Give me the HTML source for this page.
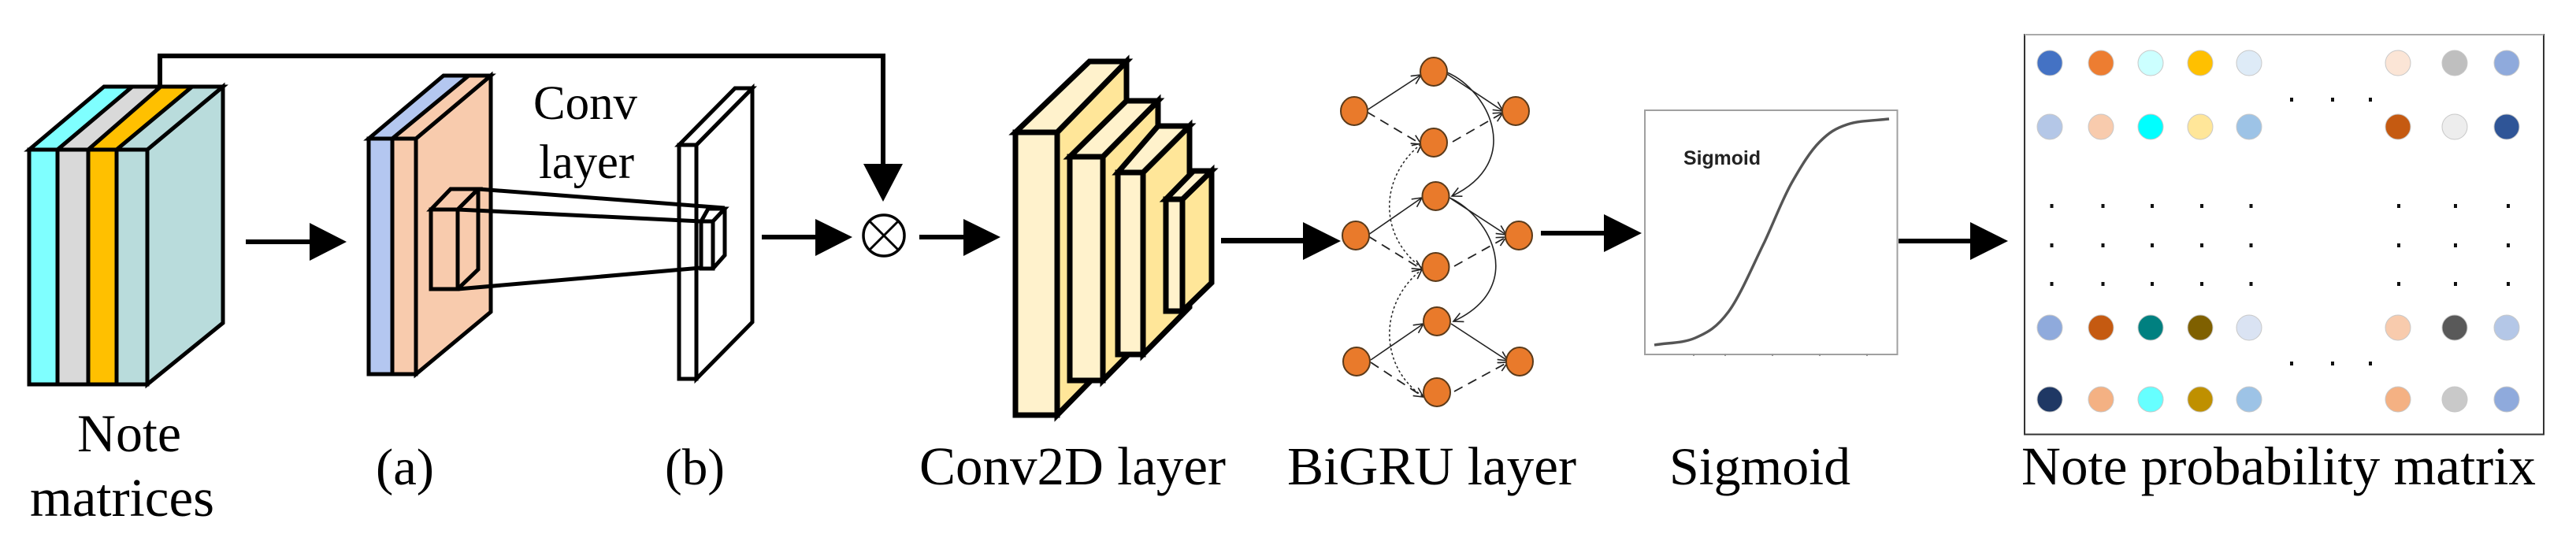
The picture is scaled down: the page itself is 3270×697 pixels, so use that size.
<!DOCTYPE html>
<html><head><meta charset="utf-8"><style>html,body{margin:0;padding:0;background:#fff}svg{display:block}
text{font-family:"Liberation Serif",serif;fill:#000}</style></head><body>
<svg width="3270" height="697" viewBox="0 0 3270 697" xmlns="http://www.w3.org/2000/svg">
<defs>
<marker id="v" markerUnits="userSpaceOnUse" markerWidth="18" markerHeight="18" refX="15" refY="9" orient="auto"><path d="M3,3 L15,9 L3,15" fill="none" stroke="#222" stroke-width="1.6"/></marker>
</defs>
<rect width="3270" height="697" fill="#fff"/>

<!-- Note matrices -->
<g stroke="#000" stroke-width="5" stroke-linejoin="miter">
<polygon points="187,190 283,110 283,410 187,488" fill="#b9dcdc"/>
<polygon points="37,190 132,110 168,110 73,190" fill="#7fffff"/>
<polygon points="73,190 168,110 204,110 112,190" fill="#d9d9d9"/>
<polygon points="112,190 204,110 244,110 148,190" fill="#ffc000"/>
<polygon points="148,190 244,110 283,110 187,190" fill="#b9dcdc"/>
<rect x="37" y="190" width="36" height="298" fill="#7fffff"/>
<rect x="73" y="190" width="39" height="298" fill="#d9d9d9"/>
<rect x="112" y="190" width="36" height="298" fill="#ffc000"/>
<rect x="148" y="190" width="39" height="298" fill="#b9dcdc"/>
</g>
<polyline points="203,110 203,71 1121,71 1121,215" fill="none" stroke="#000" stroke-width="6"/>
<polygon points="1096,208 1146,208 1121,256" fill="#000"/>

<!-- Arrow 1 -->
<rect x="312" y="304" width="84" height="6" fill="#000"/>
<polygon points="393,283 440,307 393,331" fill="#000"/>

<!-- Block a -->
<g stroke="#000" stroke-width="5">
<polygon points="528,176 623,96 623,396 528,475" fill="#f8cbad"/>
<polygon points="468,176 563,96 595,96 498,176" fill="#b4c7f0"/>
<polygon points="498,176 595,96 623,96 528,176" fill="#f8cbad"/>
<rect x="468" y="176" width="30" height="299" fill="#b4c7f0"/>
<rect x="498" y="176" width="30" height="299" fill="#f8cbad"/>
<polygon points="547,266 572,240 607,240 581,266" fill="none"/>
<rect x="547" y="266" width="34" height="101" fill="none"/>
<polyline points="607,240 607,342 581,367" fill="none"/>
<line x1="581" y1="266" x2="607" y2="240"/>
</g>

<!-- Plate b -->
<g stroke="#000" stroke-width="5" fill="#fff">
<polygon points="884,184 955,112 955,409 884,481"/>
<polygon points="862,184 933,112 955,112 884,184"/>
<rect x="862" y="184" width="22" height="297"/>
</g>
<g stroke="#000" stroke-width="5" fill="none">
<polyline points="607,240 920,264"/>
<polyline points="581,266 890,281"/>
<polyline points="581,367 890,340"/>
<polygon points="890,281 899,265 920,265 905,281"/>
<rect x="890" y="281" width="15" height="60"/>
<polyline points="920,265 920,324 905,341"/>
</g>

<!-- Arrow 2 / circle / arrow 3 -->
<rect x="967" y="298" width="70" height="6" fill="#000"/>
<polygon points="1035,278 1082,301 1035,325" fill="#000"/>
<ellipse cx="1122" cy="299" rx="26" ry="26" fill="#fff" stroke="#000" stroke-width="3.5"/>
<path d="M1104,281 L1140,317 M1140,281 L1104,317" stroke="#000" stroke-width="3"/>
<rect x="1167" y="298" width="58" height="6" fill="#000"/>
<polygon points="1223,278 1270,301 1223,325" fill="#000"/>

<!-- Conv2D -->
<g stroke="#000" stroke-width="7" stroke-linejoin="miter">
<polygon points="1342,168 1430,78 1430,437 1342,527" fill="#ffe699"/>
<polygon points="1289,168 1383,78 1430,78 1342,168" fill="#fff2cc"/>
<rect x="1289" y="168" width="53" height="359" fill="#fff2cc"/>
<polygon points="1400,199 1470,128 1470,412 1400,483" fill="#ffe699"/>
<polygon points="1358,199 1430,128 1470,128 1400,199" fill="#fff2cc"/>
<rect x="1358" y="199" width="42" height="284" fill="#fff2cc"/>
<polygon points="1451,219 1510,160 1510,390 1451,450" fill="#ffe699"/>
<polygon points="1419,219 1470,160 1510,160 1451,219" fill="#fff2cc"/>
<rect x="1419" y="219" width="32" height="231" fill="#fff2cc"/>
<polygon points="1501,253 1538,217 1538,359 1501,395" fill="#ffe699"/>
<polygon points="1480,253 1515,217 1538,217 1501,253" fill="#fff2cc"/>
<rect x="1480" y="253" width="21" height="142" fill="#fff2cc"/>
</g>

<!-- Arrow 4 -->
<rect x="1550" y="302" width="106" height="7" fill="#000"/>
<polygon points="1654,282 1702,306 1654,330" fill="#000"/>

<!-- BiGRU edges -->
<g fill="none" stroke="#222" stroke-width="1.6">
<path d="M1735,140 L1804,95" marker-end="url(#v)"/>
<path d="M1837,94 L1908,141" marker-end="url(#v)"/>
<path d="M1737,298 L1805,251" marker-end="url(#v)"/>
<path d="M1840,251 L1912,298" marker-end="url(#v)"/>
<path d="M1740,457 L1807,411" marker-end="url(#v)"/>
<path d="M1842,411 L1914,458" marker-end="url(#v)"/>
<path d="M1837,92 C1890,115 1935,205 1843,249" marker-end="url(#v)"/>
<path d="M1840,251 C1893,275 1938,365 1845,408" marker-end="url(#v)"/>
</g>
<g fill="none" stroke="#222" stroke-width="1.8" stroke-dasharray="12 8">
<path d="M1735,142 L1804,183" marker-end="url(#v)"/>
<path d="M1844,180 L1908,143" marker-end="url(#v)"/>
<path d="M1737,300 L1805,342" marker-end="url(#v)"/>
<path d="M1846,338 L1912,301" marker-end="url(#v)"/>
<path d="M1740,460 L1807,504" marker-end="url(#v)"/>
<path d="M1846,497 L1914,460" marker-end="url(#v)"/>
</g>
<g fill="none" stroke="#222" stroke-width="1.5" stroke-dasharray="3 3">
<path d="M1805,340 C1750,300 1750,225 1805,182" marker-end="url(#v)"/>
<path d="M1806,503 C1750,465 1750,385 1805,342" marker-end="url(#v)"/>
</g>
<g fill="#e97a2b" stroke="#5a3a1a" stroke-width="2">
<ellipse cx="1719" cy="141" rx="17" ry="18"/><ellipse cx="1721" cy="299" rx="17" ry="18"/><ellipse cx="1722" cy="459" rx="17" ry="18"/>
<ellipse cx="1820" cy="91" rx="17" ry="18"/><ellipse cx="1820" cy="181" rx="17" ry="18"/><ellipse cx="1822.5" cy="249" rx="17" ry="18"/>
<ellipse cx="1822.5" cy="339" rx="17" ry="18"/><ellipse cx="1824" cy="408" rx="17" ry="18"/><ellipse cx="1824" cy="498" rx="17" ry="18"/>
<ellipse cx="1924" cy="141" rx="17" ry="18"/><ellipse cx="1928" cy="299" rx="17" ry="18"/><ellipse cx="1929" cy="459" rx="17" ry="18"/>
</g>

<!-- Sigmoid panel -->
<rect x="2088" y="140" width="320.5" height="310" fill="#fff" stroke="#a0a0a0" stroke-width="2"/>
<path d="M2150,449v3M2190,449v3M2250,449v3M2310,449v3M2370,449v3" stroke="#999" stroke-width="2"/>
<path d="M2100,438 C2117,435 2136,436 2152,429 C2168,422 2179,416 2194,396 C2209,376 2226,335 2240,307 C2253,279 2263,252 2275,231 C2287,210 2298,192 2310,180 C2322,168 2330,163 2345,158 C2360,153 2380,153 2398,151" fill="none" stroke="#555" stroke-width="3.4"/>
<text x="2137" y="209" font-size="25" font-weight="700" textLength="98" lengthAdjust="spacingAndGlyphs" style="font-family:'Liberation Sans',sans-serif;fill:#222">Sigmoid</text>

<rect x="1956" y="293" width="82" height="6" fill="#000"/>
<polygon points="2036,272 2084,296 2036,320" fill="#000"/>
<rect x="2410" y="303" width="93" height="6" fill="#000"/>
<polygon points="2501,282 2549,306 2501,330" fill="#000"/>

<!-- Matrix -->
<rect x="2570" y="44" width="659" height="507.5" fill="#fff" stroke="#333" stroke-width="2"/>
<rect x="2570" y="43" width="659" height="2" fill="#aaa"/>
<g stroke="#c8c8c8" stroke-width="1">
<g>
<ellipse cx="2602" cy="80" rx="16" ry="16" fill="#4472c4"/><ellipse cx="2667" cy="80" rx="16" ry="16" fill="#ed7d31"/><ellipse cx="2730" cy="80" rx="16" ry="16" fill="#ccffff"/><ellipse cx="2793" cy="80" rx="16" ry="16" fill="#ffc000"/><ellipse cx="2855" cy="80" rx="16" ry="16" fill="#deebf7"/><ellipse cx="3044" cy="80" rx="16" ry="16" fill="#fbe5d6"/><ellipse cx="3116" cy="80" rx="16" ry="16" fill="#bfbfbf"/><ellipse cx="3182" cy="80" rx="16" ry="16" fill="#8faadc"/>
</g><g>
<ellipse cx="2602" cy="161" rx="16" ry="16" fill="#b4c7e7"/><ellipse cx="2667" cy="161" rx="16" ry="16" fill="#f8cbad"/><ellipse cx="2730" cy="161" rx="16" ry="16" fill="#00ffff"/><ellipse cx="2793" cy="161" rx="16" ry="16" fill="#ffe699"/><ellipse cx="2855" cy="161" rx="16" ry="16" fill="#9dc3e6"/><ellipse cx="3044" cy="161" rx="16" ry="16" fill="#c55a11"/><ellipse cx="3116" cy="161" rx="16" ry="16" fill="#ededed"/><ellipse cx="3182" cy="161" rx="16" ry="16" fill="#2f5597"/>
</g><g>
<ellipse cx="2602" cy="416" rx="16" ry="16" fill="#8faadc"/><ellipse cx="2667" cy="416" rx="16" ry="16" fill="#c55a11"/><ellipse cx="2730" cy="416" rx="16" ry="16" fill="#008080"/><ellipse cx="2793" cy="416" rx="16" ry="16" fill="#7f6000"/><ellipse cx="2855" cy="416" rx="16" ry="16" fill="#dae3f3"/><ellipse cx="3044" cy="416" rx="16" ry="16" fill="#f8cbad"/><ellipse cx="3116" cy="416" rx="16" ry="16" fill="#595959"/><ellipse cx="3182" cy="416" rx="16" ry="16" fill="#b4c7e7"/>
</g><g>
<ellipse cx="2602" cy="507" rx="16" ry="16" fill="#1f3864"/><ellipse cx="2667" cy="507" rx="16" ry="16" fill="#f4b183"/><ellipse cx="2730" cy="507" rx="16" ry="16" fill="#66ffff"/><ellipse cx="2793" cy="507" rx="16" ry="16" fill="#bf9000"/><ellipse cx="2855" cy="507" rx="16" ry="16" fill="#9dc3e6"/><ellipse cx="3044" cy="507" rx="16" ry="16" fill="#f4b183"/><ellipse cx="3116" cy="507" rx="16" ry="16" fill="#c9c9c9"/><ellipse cx="3182" cy="507" rx="16" ry="16" fill="#8faadc"/>
</g>
</g>
<g fill="#111">
<rect x="2602.5" y="259" width="4" height="5"/><rect x="2667.5" y="259" width="4" height="5"/><rect x="2730" y="259" width="4" height="5"/><rect x="2793" y="259" width="4" height="5"/><rect x="2855.5" y="259" width="4" height="5"/><rect x="3043" y="259" width="4" height="5"/><rect x="3115" y="259" width="4" height="5"/><rect x="3182" y="259" width="4" height="5"/>
<rect x="2602.5" y="309" width="4" height="5"/><rect x="2667.5" y="309" width="4" height="5"/><rect x="2730" y="309" width="4" height="5"/><rect x="2793" y="309" width="4" height="5"/><rect x="2855.5" y="309" width="4" height="5"/><rect x="3043" y="309" width="4" height="5"/><rect x="3115" y="309" width="4" height="5"/><rect x="3182" y="309" width="4" height="5"/>
<rect x="2602.5" y="358" width="4" height="5"/><rect x="2667.5" y="358" width="4" height="5"/><rect x="2730" y="358" width="4" height="5"/><rect x="2793" y="358" width="4" height="5"/><rect x="2855.5" y="358" width="4" height="5"/><rect x="3043" y="358" width="4" height="5"/><rect x="3115" y="358" width="4" height="5"/><rect x="3182" y="358" width="4" height="5"/>
<rect x="2907" y="124" width="4" height="5"/><rect x="2959" y="124" width="4" height="5"/><rect x="3007" y="124" width="4" height="5"/>
<rect x="2907" y="459" width="4" height="5"/><rect x="2959" y="459" width="4" height="5"/><rect x="3007" y="459" width="4" height="5"/>
</g>

<!-- Labels -->
<text x="677" y="151" font-size="61" textLength="132" lengthAdjust="spacingAndGlyphs">Conv</text>
<text x="684" y="226" font-size="61" textLength="121" lengthAdjust="spacingAndGlyphs">layer</text>
<text x="98" y="573" font-size="68" textLength="132" lengthAdjust="spacingAndGlyphs">Note</text>
<text x="38" y="655" font-size="69" textLength="234" lengthAdjust="spacingAndGlyphs">matrices</text>
<text x="477" y="615" font-size="66" textLength="74" lengthAdjust="spacingAndGlyphs">(a)</text>
<text x="844" y="615" font-size="66" textLength="76" lengthAdjust="spacingAndGlyphs">(b)</text>
<text x="1167" y="615" font-size="69" textLength="389" lengthAdjust="spacingAndGlyphs">Conv2D layer</text>
<text x="1634" y="615" font-size="69" textLength="367" lengthAdjust="spacingAndGlyphs">BiGRU layer</text>
<text x="2119" y="615" font-size="68" textLength="230" lengthAdjust="spacingAndGlyphs">Sigmoid</text>
<text x="2566" y="615" font-size="69" textLength="653" lengthAdjust="spacingAndGlyphs">Note probability matrix</text>
</svg>
</body></html>
